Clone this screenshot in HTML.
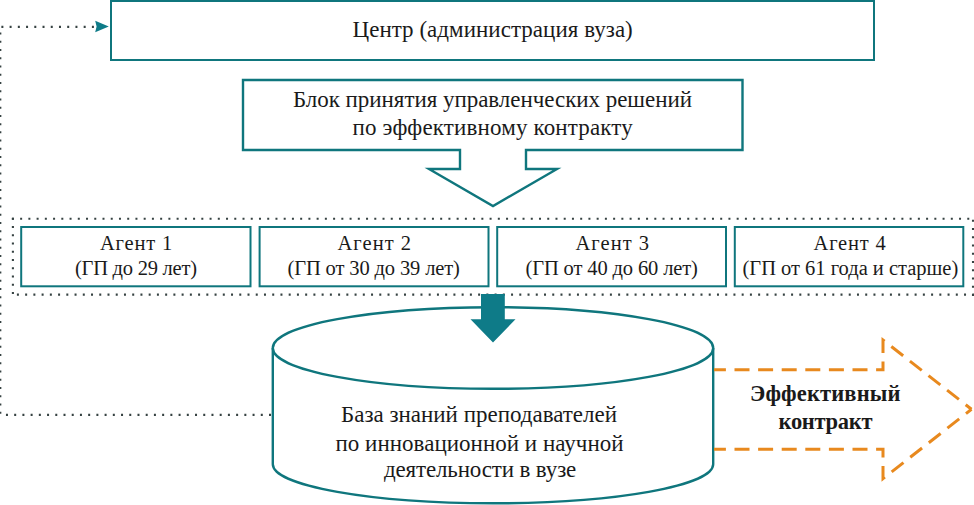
<!DOCTYPE html>
<html><head><meta charset="utf-8">
<style>
html,body{margin:0;padding:0;background:#fff;}
body{width:974px;height:505px;overflow:hidden;position:relative;}
svg{position:absolute;left:0;top:0;}
text{font-family:"Liberation Serif",serif;fill:#1a1a1a;}
</style></head><body>
<svg width="974" height="505" viewBox="0 0 974 505">
<g stroke="#364242" stroke-width="2.1" fill="none">
  <path d="M0.3 413.7 V31" stroke-dasharray="2 6.245"/>
  <path d="M93.9 26.9 H0" stroke-dasharray="2 6.23"/>
  <path d="M271 414.9 H0" stroke-dasharray="2 6.22"/>
  <path d="M11.9 218.7 H974" stroke-dasharray="2 6.236"/>
  <path d="M16.9 294.6 H974" stroke-dasharray="2 6.236"/>
  <path d="M12.9 217.8 V296" stroke-dasharray="2 6.25"/>
  <path d="M973 219.8 V296" stroke-dasharray="2 6.25"/>
</g>
<path d="M95.2 20.7 L108.8 26.5 L95.2 32.3 L96.6 26.5 Z" fill="#0e7b88"/>
<rect x="111" y="1" width="763" height="59" fill="none" stroke="#0f767d" stroke-width="2.0"/>
<path d="M243 80 H742.5 V150 H526 V169 H557 L493 206 L429 169 H460 V150 H243 Z" fill="none" stroke="#0f767d" stroke-width="2.4" stroke-linejoin="miter"/>
<g fill="none" stroke="#0f767d" stroke-width="2.0">
  <rect x="21.2" y="227" width="229.3" height="59.3"/>
  <rect x="259.6" y="227" width="228.9" height="59.3"/>
  <rect x="497.2" y="227" width="228.8" height="59.3"/>
  <rect x="734.8" y="227" width="228.5" height="59.3"/>
</g>
<g fill="#fff" stroke="#0f767d" stroke-width="2.4">
  <path d="M272.8 348 V464.3 A220.2 39 0 0 0 713.2 464.3 V348"/>
  <ellipse cx="493" cy="348" rx="220.2" ry="40.8"/>
</g>
<path d="M481 294 H504.8 V319.2 H515.5 L493 342.6 L470.5 319.2 H481 Z" fill="#0e7b88"/>
<g fill="none" stroke="#e8891e" stroke-width="3" stroke-dasharray="15 8.6" stroke-dashoffset="3.1">
<path d="M714 369.7 H883 V340 L971.5 409.3"/>
<path d="M714 449.3 H883 V478.6 L971.5 409.3"/>
</g>
<g>
  <text x="352.50" y="36.90" font-size="23" letter-spacing="0.032">Центр (администрация вуза)</text>
  <text x="293.00" y="107.30" font-size="23" letter-spacing="-0.040">Блок принятия управленческих решений</text>
  <text x="352.50" y="134.90" font-size="23" letter-spacing="0.158">по эффективному контракту</text>
  <text x="100.00" y="250.40" font-size="20.5" letter-spacing="0.800">Агент 1</text>
  <text x="75.00" y="275.40" font-size="20.5" letter-spacing="-0.246">(ГП до 29 лет)</text>
  <text x="337.50" y="250.40" font-size="20.5" letter-spacing="1.033">Агент 2</text>
  <text x="287.50" y="275.40" font-size="20.5" letter-spacing="-0.126">(ГП от 30 до 39 лет)</text>
  <text x="575.50" y="250.40" font-size="20.5" letter-spacing="1.033">Агент 3</text>
  <text x="525.50" y="275.40" font-size="20.5" letter-spacing="-0.126">(ГП от 40 до 60 лет)</text>
  <text x="813.50" y="250.40" font-size="20.5" letter-spacing="0.833">Агент 4</text>
  <text x="742.50" y="275.40" font-size="20.5" letter-spacing="-0.009">(ГП от 61 года и старше)</text>
  <text x="341.00" y="422.40" font-size="23" letter-spacing="-0.008">База знаний преподавателей</text>
  <text x="335.50" y="450.50" font-size="23" letter-spacing="0.016">по инновационной и научной</text>
  <text x="384.00" y="476.90" font-size="23" letter-spacing="-0.144">деятельности в вузе</text>
  <text x="750.00" y="400.80" font-size="22.5" letter-spacing="0.140" font-weight="bold">Эффективный</text>
  <text x="778.50" y="428.60" font-size="22.5" letter-spacing="-0.286" font-weight="bold">контракт</text>
</g>
</svg>
</body></html>
